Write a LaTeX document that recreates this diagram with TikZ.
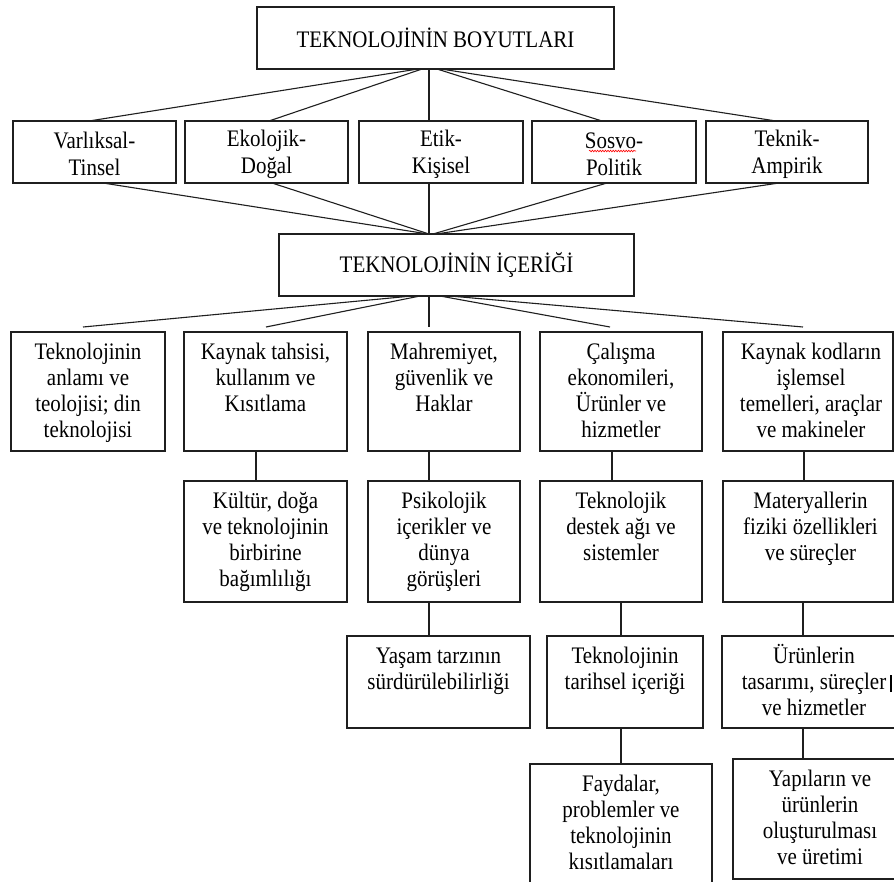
\documentclass[tikz,border=0pt]{standalone}
\usepackage{fontspec}
\setmainfont{Liberation Serif}[FakeStretch=0.885]
\usetikzlibrary{calc,decorations.pathmorphing}
% top-aligned text box: name, x1, y1, x2, y2, text
\newcommand\tbx[6]{\node[boxst] (#1) at ({(#2+#4)/2},{(#3+#5)/2})
  {\parbox[c][\dimexpr#5pt-#3pt\relax][t]{\dimexpr#4pt-#2pt\relax}{\centering\rule{0pt}{27pt}#6\par}};}
% centred text box
\newcommand\cbx[6]{\node[boxst] (#1) at ({(#2+#4)/2},{(#3+#5)/2})
  {\parbox[c][\dimexpr#5pt-#3pt\relax][c]{\dimexpr#4pt-#2pt\relax}{\centering #6\par}};}
\tikzset{
  boxst/.style={draw=black!88, line width=1.3pt, inner sep=0pt, outer sep=0pt,
    font=\fontsize{23.7}{26}\selectfont, text=black},
  conn/.style={draw=black!88, line width=1.1pt},
}
\begin{document}
\begin{tikzpicture}[x=1pt,y=-1pt]
\useasboundingbox (0,0) rectangle (894,881);
\fill[white] (0,0) rectangle (894,881);
\clip (0,0) rectangle (894,881);

% top
\cbx{top}{257}{7}{614}{69}{TEKNOLOJİNİN BOYUTLARI}
% row 2
\cbx{r21}{13}{121}{176}{183}{\baselineskip=27pt \vspace*{4pt}Varlıksal-\\Tinsel}
\cbx{r22}{185}{121}{348}{183}{\baselineskip=27pt \vspace*{4pt}Ekolojik-\\Doğal}
\cbx{r23}{359}{121}{523}{183}{\baselineskip=27pt \vspace*{4pt}Etik-\\Kişisel}
\cbx{r24}{532}{121}{696}{183}{\baselineskip=27pt \vspace*{4pt}Sosvo-\\Politik}
\cbx{r25}{706}{121}{868}{183}{\baselineskip=27pt \vspace*{4pt}Teknik-\\Ampirik}
% content
\cbx{con}{279}{234}{634}{296}{TEKNOLOJİNİN İÇERİĞİ}
% row 3
\tbx{r31}{11}{332}{165}{451}{Teknolojinin\\anlamı ve\\teolojisi; din\\teknolojisi}
\tbx{r32}{184}{332}{347}{451}{Kaynak tahsisi,\\kullanım ve\\Kısıtlama}
\tbx{r33}{368}{332}{520}{451}{Mahremiyet,\\güvenlik ve\\Haklar}
\tbx{r34}{540}{332}{702}{451}{Çalışma\\ekonomileri,\\Ürünler ve\\hizmetler}
\tbx{r35}{723}{332}{893}{451}{\hspace*{6pt}Kaynak kodların\\\hspace*{6pt}işlemsel\\\hspace*{6pt}temelleri, araçlar\\\hspace*{6pt}ve makineler}
% row 4
\tbx{r42}{184}{481}{347}{602}{Kültür, doğa\\ve teknolojinin\\birbirine\\bağımlılığı}
\tbx{r43}{368}{481}{520}{602}{Psikolojik\\içerikler ve\\dünya\\görüşleri}
\tbx{r44}{540}{481}{702}{602}{Teknolojik\\destek ağı ve\\sistemler}
\tbx{r45}{723}{481}{893}{602}{\hspace*{5pt}Materyallerin\\\hspace*{5pt}fiziki özellikleri\\\hspace*{5pt}ve süreçler}
% row 5
\tbx{r53}{347}{636}{530}{728}{Yaşam tarzının\\sürdürülebilirliği}
\tbx{r54}{547}{636}{703}{728}{Teknolojinin\\tarihsel içeriği}
\tbx{r55}{722}{636}{906}{728}{Ürünlerin\\tasarımı, süreçler\rlap{\,\rule[-3pt]{2pt}{17pt}}\\ve hizmetler}
% row 6
\tbx{r64}{530}{764}{712}{900}{Faydalar,\\problemler ve\\teknolojinin\\kısıtlamaları}
\tbx{r65}{733}{759}{907}{879}{Yapıların ve\\ürünlerin\\oluşturulması\\ve üretimi}

% spelling underline
\draw[red, line width=0.6pt, decorate, decoration={snake, amplitude=0.8pt, segment length=2.6pt}]
  (589,151) -- (636,151);

% top -> row 2
\draw[conn] ([xshift=-17.5pt]top.south) -- ([xshift=-5.5pt]r21.north);
\draw[conn] ([xshift=-13.5pt]top.south) -- ([xshift=2.5pt]r22.north);
\draw[conn] ([xshift=-6.5pt]top.south) -- ([xshift=-12pt]r23.north);
\draw[conn] ([xshift=1.5pt]top.south) -- ([xshift=-12pt]r24.north);
\draw[conn] ([xshift=5.5pt]top.south) -- ([xshift=-11pt]r25.north);
% row 2 -> content
\draw[conn] ([xshift=8.5pt]r21.south) -- ([xshift=-28.5pt]con.north);
\draw[conn] ([xshift=5.5pt]r22.south) -- ([xshift=-27.5pt]con.north);
\draw[conn] ([xshift=-12pt]r23.south) -- ([xshift=-27.5pt]con.north);
\draw[conn] ([xshift=-7pt]r24.south) -- ([xshift=-23.5pt]con.north);
\draw[conn] ([xshift=-8pt]r25.south) -- ([xshift=-20.5pt]con.north);
% content -> row 3
\draw[conn] ([xshift=-44.5pt]con.south) -- ([xshift=-5pt,yshift=5pt]r31.north);
\draw[conn] ([xshift=-36.5pt]con.south) -- ([xshift=0.5pt,yshift=5pt]r32.north);
\draw[conn] ([xshift=-27.5pt]con.south) -- ([xshift=-15pt,yshift=5pt]r33.north);
\draw[conn] ([xshift=-16.5pt]con.south) -- ([xshift=-11pt,yshift=5pt]r34.north);
\draw[conn] ([xshift=-6.5pt]con.south) -- ([xshift=-5pt,yshift=5pt]r35.north);
% row 3 -> row 4
\draw[conn] ([xshift=-9.5pt]r32.south) -- ([xshift=-9.5pt]r42.north);
\draw[conn] ([xshift=-15pt]r33.south) -- ([xshift=-15pt]r43.north);
\draw[conn] ([xshift=-9pt]r34.south) -- ([xshift=-9pt]r44.north);
\draw[conn] ([xshift=-4pt]r35.south) -- ([xshift=-4pt]r45.north);
% row 4 -> row 5
\draw[conn] ([xshift=-15pt]r43.south) -- ([xshift=-9.5pt]r53.north);
\draw[conn] ([xshift=0pt]r44.south) -- ([xshift=-4pt]r54.north);
\draw[conn] ([xshift=-5pt]r45.south) -- ([xshift=-11pt]r55.north);
% row 5 -> row 6
\draw[conn] ([xshift=-4pt]r54.south) -- ([xshift=0pt]r64.north);
\draw[conn] ([xshift=-11pt]r55.south) -- ([xshift=-17pt]r65.north);
\end{tikzpicture}
\end{document}
